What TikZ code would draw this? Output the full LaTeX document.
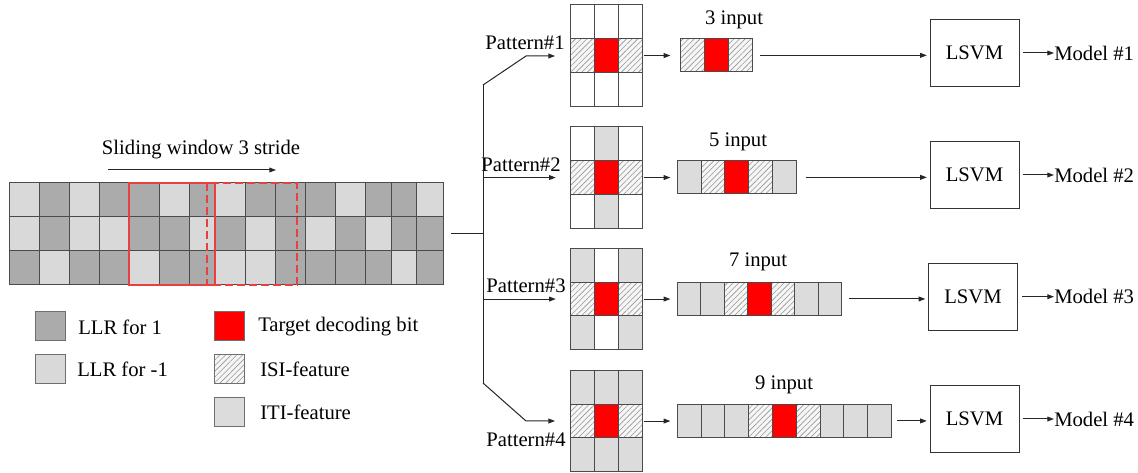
\documentclass[tikz,border=0pt]{standalone}
\usepackage{fontspec}
\setmainfont{Liberation Serif}
\usetikzlibrary{patterns.meta,arrows.meta,fit}
\definecolor{dk}{RGB}{171,171,171}
\definecolor{lt}{RGB}{217,217,217}
\definecolor{iti}{RGB}{220,220,220}
\definecolor{grd}{RGB}{75,75,75}
\definecolor{win}{RGB}{232,64,64}
\definecolor{hatchbg}{RGB}{246,246,246}
\definecolor{hatchln}{RGB}{150,150,150}
\tikzset{
  cell/.style={draw=grd, line width=0.75pt},
  celld/.style={cell, fill=dk},
  celll/.style={cell, fill=lt},
  celli/.style={cell, fill=iti},
  cellw/.style={cell, fill=white},
  cellr/.style={cell, fill=red},
  cellh/.style={cell, preaction={fill=hatchbg}, pattern={Lines[angle=45,distance=3pt,line width=0.45pt]}, pattern color=hatchln},
  conn/.style={draw=black!85, line width=0.75pt},
  arr/.style={conn, -{Triangle[length=5pt,width=3.6pt]}},
  lsvm/.style={draw=black!80, line width=0.75pt, minimum width=66.75pt, minimum height=50.25pt, inner sep=0pt},
  lbl/.style={inner sep=0pt},
  legsq/.style={cell, draw=grd!80, minimum width=22.5pt, minimum height=21.5pt, inner sep=0pt},
  box/.style={inner sep=0pt},
}
\newcommand\pgrid[8]{%
  \path[#3] (570,#2) rectangle ++(24,33.7);
  \path[#4] (594,#2) rectangle ++(24,33.7);
  \path[#5] (618,#2) rectangle ++(24,33.7);
  \path[cellh] (570,#2+33.7) rectangle ++(24,33.7);
  \path[cellr] (594,#2+33.7) rectangle ++(24,33.7);
  \path[cellh] (618,#2+33.7) rectangle ++(24,33.7);
  \path[#6] (570,#2+67.4) rectangle ++(24,33.7);
  \path[#7] (594,#2+67.4) rectangle ++(24,33.7);
  \path[#8] (618,#2+67.4) rectangle ++(24,33.7);
  \node[box, fit={(570,#2) (642,#2+101.1)}] (#1) {};
}
\begin{document}
\begin{tikzpicture}[x=0.75pt, y=-0.75pt, font=\fontsize{15.5}{18}\selectfont]
\useasboundingbox (0,0) rectangle (1138,473);
\fill[white] (0,0) rectangle (1138,473);

% ---- main LLR grid ----
\foreach \xa/\xb/\ca/\cb/\cc in {9/39/lt/lt/dk, 39/69/dk/dk/lt, 69/99/lt/lt/dk, 99/129/dk/lt/dk,
  129/159/dk/dk/lt, 159/189/lt/dk/dk, 189/215/dk/lt/dk, 215/245/lt/dk/lt, 245/275/dk/lt/lt,
  275/305/dk/dk/dk, 305/335/dk/lt/dk, 335/365/lt/dk/dk, 365/391/dk/lt/dk, 391/416/dk/dk/lt, 416/443/lt/dk/dk}
{
  \path[cell, fill=\ca] (\xa,183) rectangle (\xb,217);
  \path[cell, fill=\cb] (\xa,217) rectangle (\xb,251);
  \path[cell, fill=\cc] (\xa,251) rectangle (\xb,285);
}
\node[box, fit={(9,183) (443,285)}] (grid) {};
\draw[win, line width=1pt] (129,183) rectangle (215,285);
\draw[win, line width=1pt, dash pattern=on 6pt off 3pt] (207,183) rectangle (297,285);

\node[lbl] (slide) at (201,150) {Sliding window 3 stride};
\coordinate (sa) at (108,170);
\coordinate (sb) at (276,170);
\draw[arr] (sa) -- (sb);

% ---- legend ----
\node[legsq, fill=dk] (k1) at (50,326) {};
\node[lbl, anchor=west] (t1) at (78,327) {LLR for 1};
\node[legsq, fill=lt] (k2) at (50,369) {};
\node[lbl, anchor=west] (t2) at (77,369) {LLR for -1};
\node[legsq, fill=red] (k3) at (229,326) {};
\node[lbl, anchor=west] (t3) at (258,327) {Target decoding bit};
\node[legsq, cellh, draw=grd!80] (k4) at (229,369) {};
\node[lbl, anchor=west] (t4) at (260,369) {ISI-feature};
\node[legsq, fill=iti] (k5) at (229,412) {};
\node[lbl, anchor=west] (t5) at (260,412) {ITI-feature};

% ---- pattern grids ----
\pgrid{p1}{5}{cellw}{cellw}{cellw}{cellw}{cellw}{cellw}
\pgrid{p2}{127}{cellw}{celli}{cellw}{cellw}{celli}{cellw}
\pgrid{p3}{248.5}{celli}{cellw}{celli}{celli}{cellw}{celli}
\pgrid{p4}{370.5}{celli}{celli}{celli}{celli}{celli}{celli}

\node[lbl] (pl1) at (525,43) {Pattern\#1};
\node[lbl] (pl2) at (521,165) {Pattern\#2};
\node[lbl] (pl3) at (526,286) {Pattern\#3};
\node[lbl] (pl4) at (526,440) {Pattern\#4};

% ---- splitting connectors ----
\coordinate (gout) at (451,234);
\coordinate (split) at (483,234);
\coordinate (vt) at (483,85);
\coordinate (vb) at (483,383);
\coordinate (b1) at (526,56);
\coordinate (b4) at (526,421);
\draw[conn] (gout) -- (split);
\draw[conn] (vt) -- (vb);
\draw[arr, shorten >=11pt] (vt) -- (b1) -- (b1 -| p1.west);
\draw[arr, shorten >=10.5pt] (split |- p2.west) -- (p2.west);
\draw[arr, shorten >=10.5pt] (split |- p3.west) -- (p3.west);
\draw[arr, shorten >=11pt] (vb) -- (b4) -- (b4 -| p4.west);

% ---- input rows ----
\foreach \t [count=\i from 0] in {cellh,cellr,cellh}
  {\path[\t] (680+\i*24,38.7) rectangle ++(24,33.3);}
\node[box, fit={(680,38.7) (752,72)}] (r1) {};
\foreach \t [count=\i from 0] in {celli,cellh,cellr,cellh,celli}
  {\path[\t] (677.3+\i*23.75,160.7) rectangle ++(23.75,33.3);}
\node[box, fit={(677.3,160.7) (796,194)}] (r2) {};
\foreach \t [count=\i from 0] in {celli,celli,cellh,cellr,cellh,celli,celli}
  {\path[\t] (677.3+\i*23.5,282.3) rectangle ++(23.5,33.3);}
\node[box, fit={(677.3,282.3) (841.8,315.6)}] (r3) {};
\foreach \t [count=\i from 0] in {celli,celli,celli,cellh,cellr,cellh,celli,celli,celli}
  {\path[\t] (677.3+\i*23.8,404.3) rectangle ++(23.8,33.3);}
\node[box, fit={(677.3,404.3) (891.5,437.6)}] (r4) {};

\node[lbl] (n1) at (734,20) {3 input};
\node[lbl] (n2) at (738,142) {5 input};
\node[lbl] (n3) at (758,262) {7 input};
\node[lbl] (n4) at (784,385) {9 input};

\draw[arr, shorten <=1pt, shorten >=7pt] (p1.east) -- (p1.east -| r1.west);
\draw[arr, shorten <=1pt, shorten >=5pt] (p2.east) -- (p2.east -| r2.west);
\draw[arr, shorten <=1pt, shorten >=5pt] (p3.east) -- (p3.east -| r3.west);
\draw[arr, shorten <=1pt, shorten >=5pt] (p4.east) -- (p4.east -| r4.west);

% ---- LSVM ----
\node[lsvm] (l1) at (974.5,53) {LSVM};
\node[lsvm] (l2) at (974.5,175) {LSVM};
\node[lsvm] (l3) at (973,296.7) {LSVM};
\node[lsvm] (l4) at (974.5,419) {LSVM};

\draw[arr, shorten <=6pt, shorten >=2pt] (r1.east) -- (r1.east -| l1.west);
\draw[arr, shorten <=7pt, shorten >=2pt] (r2.east) -- (r2.east -| l2.west);
\draw[arr, shorten <=5pt, shorten >=2pt] (r3.east) -- (r3.east -| l3.west);
\draw[arr, shorten <=4pt, shorten >=2pt] (r4.east) -- (r4.east -| l4.west);

\node[lbl, anchor=west] (m1) at (1054,53) {Model \#1};
\node[lbl, anchor=west] (m2) at (1054,175) {Model \#2};
\node[lbl, anchor=west] (m3) at (1054,296.7) {Model \#3};
\node[lbl, anchor=west] (m4) at (1054,419) {Model \#4};

\draw[arr, shorten <=2.5pt] (l1.east) -- (m1.west);
\draw[arr, shorten <=2.5pt] (l2.east) -- (m2.west);
\draw[arr, shorten <=3pt] (l3.east) -- (m3.west);
\draw[arr, shorten <=2.5pt] (l4.east) -- (m4.west);
\end{tikzpicture}
\end{document}
